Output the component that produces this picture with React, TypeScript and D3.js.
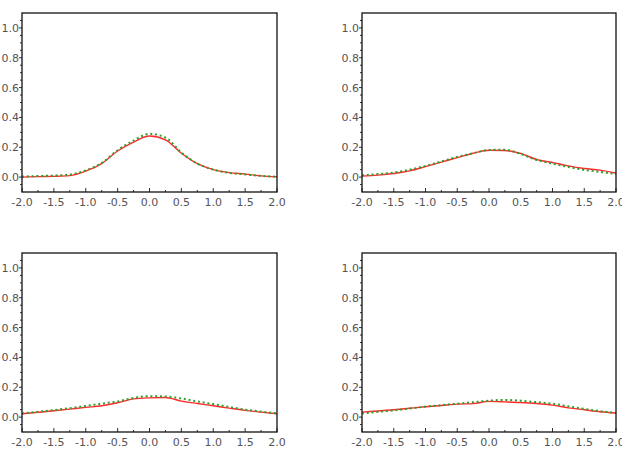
import React, { useEffect, useRef } from "react";
import * as d3 from "d3";

const W = 622;
const H = 456;

// shared x grid
const xs = [-2, -1.75, -1.5, -1.25, -1, -0.75, -0.5, -0.25, 0, 0.25, 0.5, 0.75, 1, 1.25, 1.5, 1.75, 2];

const red1 = [0.0, 0.003, 0.005, 0.01, 0.04, 0.09, 0.175, 0.235, 0.275, 0.25, 0.16, 0.09, 0.05, 0.03, 0.02, 0.008, 0.002];
const green1 = [0.003, 0.007, 0.01, 0.017, 0.045, 0.095, 0.18, 0.245, 0.29, 0.265, 0.165, 0.09, 0.05, 0.028, 0.018, 0.008, 0.002];

const red2 = [0.007, 0.013, 0.024, 0.042, 0.07, 0.1, 0.13, 0.16, 0.18, 0.178, 0.158, 0.118, 0.098, 0.075, 0.058, 0.047, 0.027];
const green2 = [0.012, 0.02, 0.03, 0.05, 0.075, 0.105, 0.135, 0.16, 0.182, 0.183, 0.155, 0.115, 0.09, 0.068, 0.048, 0.035, 0.02];

const red3 = [0.022, 0.032, 0.042, 0.053, 0.065, 0.076, 0.096, 0.122, 0.129, 0.131, 0.107, 0.091, 0.076, 0.06, 0.045, 0.033, 0.022];
const green3 = [0.025, 0.035, 0.047, 0.06, 0.075, 0.09, 0.105, 0.128, 0.14, 0.138, 0.125, 0.105, 0.087, 0.068, 0.05, 0.037, 0.025];

const red4 = [0.033, 0.041, 0.049, 0.059, 0.069, 0.078, 0.087, 0.09, 0.105, 0.102, 0.098, 0.091, 0.08, 0.062, 0.049, 0.036, 0.027];
const green4 = [0.025, 0.035, 0.045, 0.057, 0.07, 0.08, 0.09, 0.1, 0.11, 0.115, 0.11, 0.1, 0.09, 0.072, 0.055, 0.04, 0.028];

const xTicks = [-2, -1.5, -1, -0.5, 0, 0.5, 1, 1.5, 2];
const yTicks = [0, 0.2, 0.4, 0.6, 0.8, 1.0];

const panels = [
  { left: 22, right: 277, top: 13, bottom: 192, red: red1, green: green1 },
  { left: 362, right: 616, top: 13, bottom: 192, red: red2, green: green2 },
  { left: 22, right: 277, top: 253, bottom: 432, red: red3, green: green3 },
  { left: 362, right: 616, top: 253, bottom: 432, red: red4, green: green4 },
];

const FONT = "DejaVu Sans, sans-serif";

const App: React.FC = () => {
  const ref = useRef<SVGSVGElement>(null);

  useEffect(() => {
    if (!ref.current) return;
    const svg = d3.select(ref.current);
    svg.selectAll("*").remove();

    panels.forEach((p) => {
      const x = d3.scaleLinear().domain([-2, 2]).range([p.left, p.right]);
      const y = d3.scaleLinear().domain([-0.1, 1.1]).range([p.bottom, p.top]);
      const g = svg.append("g");

      // y ticks: major outward, minor every 0.05
      const yMinor = d3.range(-0.05, 1.1, 0.05).filter((v) => Math.abs(Math.round(v * 5) - v * 5) > 1e-6);
      g.selectAll("line.ymin")
        .data(yMinor)
        .enter()
        .append("line")
        .attr("x1", p.left - 2)
        .attr("x2", p.left)
        .attr("y1", (d) => y(d))
        .attr("y2", (d) => y(d))
        .attr("stroke", "#333")
        .attr("stroke-width", 1);
      g.selectAll("line.ymaj")
        .data(yTicks)
        .enter()
        .append("line")
        .attr("x1", p.left - 3)
        .attr("x2", p.left)
        .attr("y1", (d) => y(d))
        .attr("y2", (d) => y(d))
        .attr("stroke", "#333")
        .attr("stroke-width", 1);
      g.selectAll("text.ylab")
        .data(yTicks)
        .enter()
        .append("text")
        .attr("x", p.left - 3)
        .attr("y", (d) => y(d))
        .attr("dy", "0.36em")
        .attr("text-anchor", "end")
        .attr("font-family", FONT)
        .attr("font-size", 11)
        .attr("fill", "#555")
        .text((d) => d3.format(".1f")(d));

      // x ticks: inward, minor at 0.25
      const xMinor = [-1.75, -1.25, -0.75, -0.25, 0.25, 0.75, 1.25, 1.75];
      g.selectAll("line.xmin")
        .data(xMinor)
        .enter()
        .append("line")
        .attr("x1", (d) => x(d))
        .attr("x2", (d) => x(d))
        .attr("y1", p.bottom)
        .attr("y2", p.bottom - 2)
        .attr("stroke", "#333");
      g.selectAll("line.xmaj")
        .data(xTicks)
        .enter()
        .append("line")
        .attr("x1", (d) => x(d))
        .attr("x2", (d) => x(d))
        .attr("y1", p.bottom)
        .attr("y2", p.bottom - 4)
        .attr("stroke", "#333");
      g.selectAll("text.xlab")
        .data(xTicks)
        .enter()
        .append("text")
        .attr("x", (d) => x(d))
        .attr("y", p.bottom + 14)
        .attr("text-anchor", "middle")
        .attr("font-family", FONT)
        .attr("font-size", 11)
        .attr("fill", "#555")
        .text((d) => d3.format(".1f")(d).replace("−", "-"));

      const line = d3
        .line<number>()
        .x((_, i) => x(xs[i]))
        .y((d) => y(d))
        .curve(d3.curveMonotoneX);

      g.append("path")
        .datum(p.red)
        .attr("fill", "none")
        .attr("stroke", "#ff2a2a")
        .attr("stroke-width", 1.4)
        .attr("d", line);

      g.append("path")
        .datum(p.green)
        .attr("fill", "none")
        .attr("stroke", "#2f9e2f")
        .attr("stroke-width", 2)
        .attr("stroke-dasharray", "2,2.8")
        .attr("d", line);

      g.append("rect")
        .attr("x", p.left)
        .attr("y", p.top)
        .attr("width", p.right - p.left)
        .attr("height", p.bottom - p.top)
        .attr("fill", "none")
        .attr("stroke", "#111")
        .attr("stroke-width", 1.3);
    });
  }, []);

  return (
    <svg
      ref={ref}
      width={W}
      height={H}
      style={{ position: "absolute", left: 0, top: 0, background: "#fff" }}
    />
  );
};

export default App;
